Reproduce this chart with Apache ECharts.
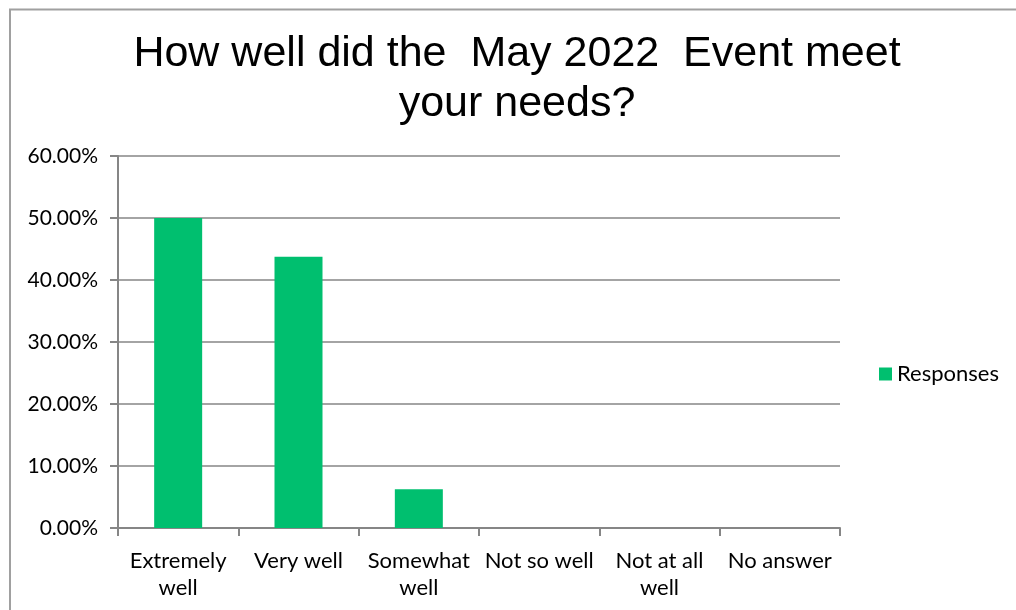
<!DOCTYPE html>
<html>
<head>
<meta charset="utf-8">
<script src="https://cdn.jsdelivr.net/npm/echarts@6/dist/echarts.min.js"></script>
<style>
  html, body { margin: 0; padding: 0; background: #fff; }
  #chart { width: 1016px; height: 610px; }
</style>
</head>
<body>
<div id="chart"></div>
<script>
var categories = ["Extremely\nwell", "Very well", "Somewhat\nwell", "Not so well", "Not at all\nwell", "No answer"];
var responses = [50.0, 43.75, 6.25, 0, 0, 0];
var seriesName = "Responses";
var titleLines = ["How well did the  May 2022  Event meet", "your needs?"];

var axisGray = "#868686";
var labelFont = "Lato, 'Open Sans', sans-serif";

var chart = echarts.init(document.getElementById("chart"));

chart.setOption({
  animation: false,
  title: {
    text: titleLines.join("\n"),
    left: 512,
    top: 24,
    textAlign: "center",
    textStyle: {
      fontFamily: "'Liberation Sans', Arial, sans-serif",
      fontWeight: "normal",
      fontSize: 43,
      lineHeight: 50,
      color: "#000"
    }
  },
  graphic: [{
    type: "polyline",
    shape: { points: [[10, 620], [10, 9.5], [1030, 9.5]] },
    style: { stroke: "#a0a0a0", lineWidth: 2, fill: null },
    silent: true
  }],
  legend: {
    data: [seriesName],
    orient: "vertical",
    left: 874,
    top: 358,
    itemWidth: 13,
    itemHeight: 13,
    itemGap: 6,
    icon: "rect",
    textStyle: { fontFamily: labelFont, fontSize: 22, color: "#000" }
  },
  grid: {
    left: 118,
    right: 176,
    top: 156,
    bottom: 82
  },
  xAxis: {
    type: "category",
    data: categories,
    boundaryGap: true,
    axisLine: { lineStyle: { color: axisGray, width: 2 } },
    axisTick: { show: true, alignWithLabel: false, length: 8, lineStyle: { color: axisGray, width: 2 } },
    axisLabel: {
      interval: 0,
      margin: 19,
      fontFamily: labelFont,
      fontSize: 22,
      lineHeight: 27,
      color: "#000"
    }
  },
  yAxis: {
    type: "value",
    min: 0,
    max: 60,
    interval: 10,
    axisLine: { show: true, lineStyle: { color: axisGray, width: 2 } },
    axisTick: { show: true, length: 8, lineStyle: { color: axisGray, width: 2 } },
    splitLine: { lineStyle: { color: axisGray, width: 1.5 } },
    axisLabel: {
      margin: 20,
      fontFamily: labelFont,
      fontSize: 21,
      color: "#000",
      formatter: function (v) { return v.toFixed(2) + "%"; }
    }
  },
  series: [{
    name: seriesName,
    type: "bar",
    data: responses,
    barWidth: 48,
    itemStyle: { color: "#00BF6F" }
  }]
});
</script>
</body>
</html>
